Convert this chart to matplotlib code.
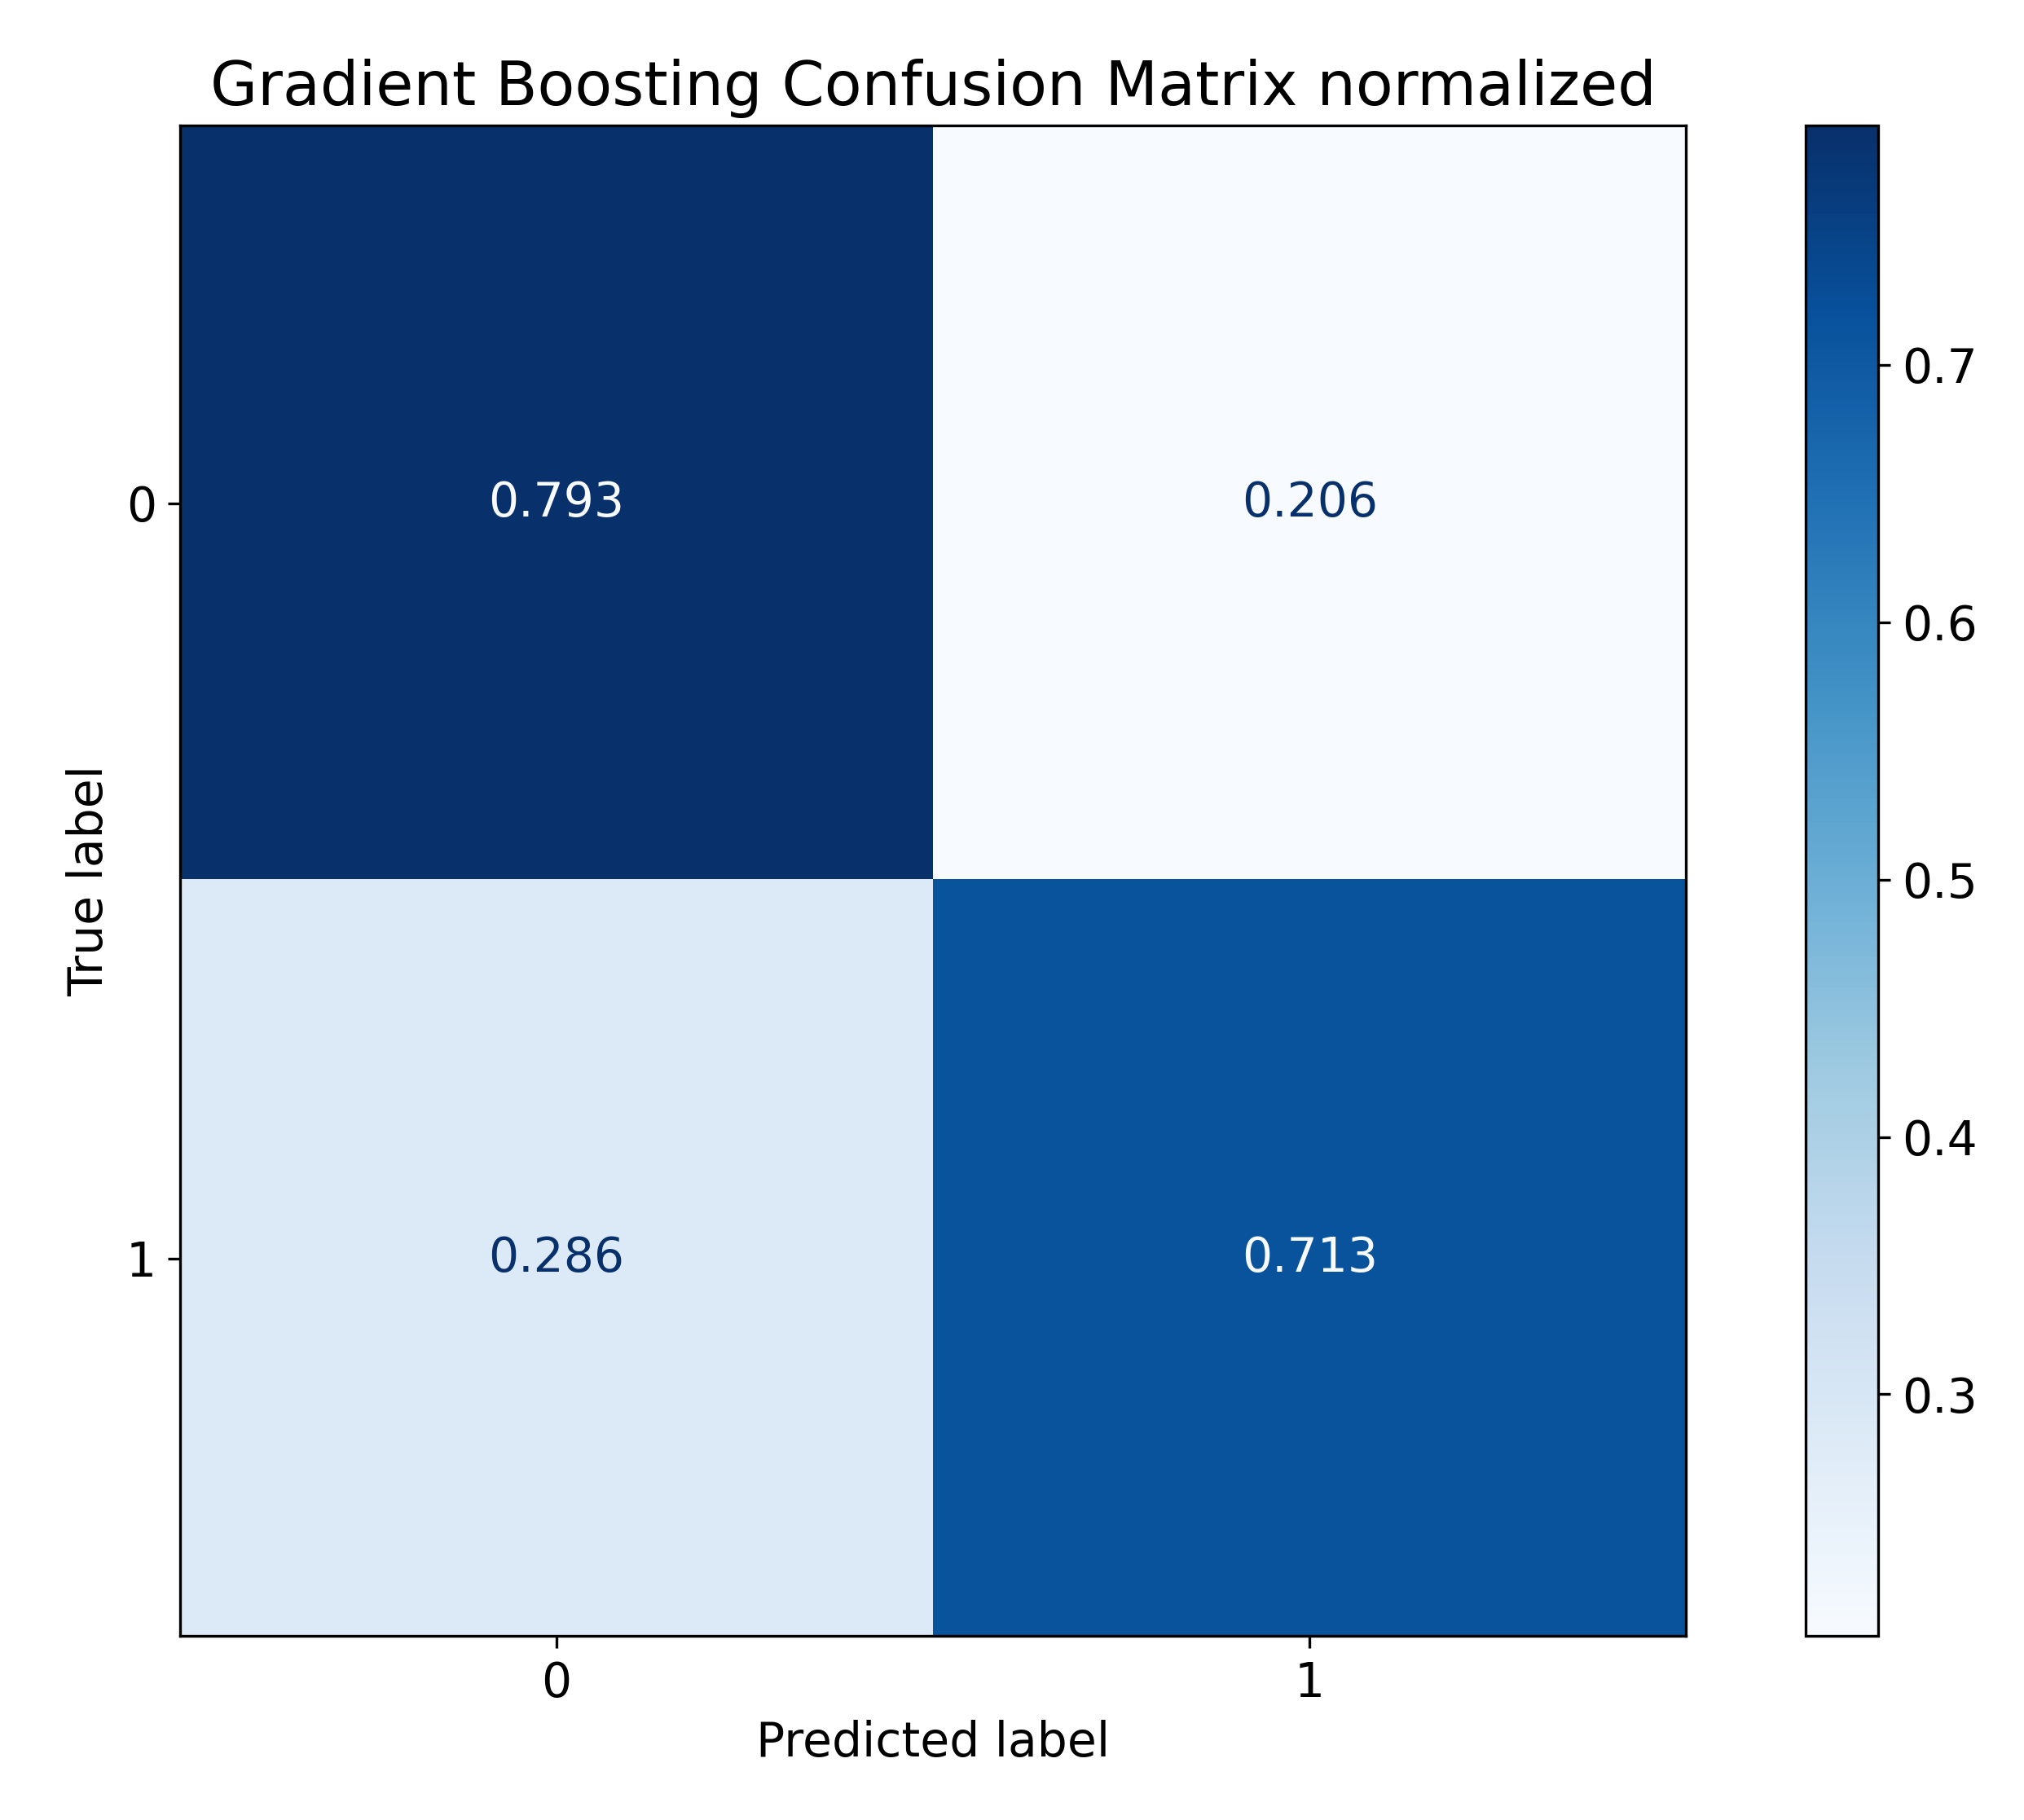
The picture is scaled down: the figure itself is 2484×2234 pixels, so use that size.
import matplotlib
matplotlib.use("Agg")
import matplotlib.pyplot as plt
import numpy as np

labels = ["0", "1"]
values = [[0.793, 0.206], [0.286, 0.713]]
title = "Gradient Boosting Confusion Matrix normalized"

cm = np.array(values)
fig = plt.figure(figsize=(8.28, 7.447), dpi=300)
ax = fig.add_axes([0.089, 0.101, 0.744, 0.830])
cax = fig.add_axes([0.892, 0.101, 0.036, 0.830])
cmap = plt.get_cmap("Blues")
im = ax.imshow(cm, cmap=cmap, aspect="auto")
vmin, vmax = cm.min(), cm.max()
thresh = (vmin + vmax) / 2
for i in range(2):
    for j in range(2):
        c = cmap(0.0) if cm[i, j] >= thresh else cmap(1.0)
        ax.text(j, i, f"{cm[i, j]:.3f}", ha="center", va="center", color=c, fontsize=14)
ax.set_xticks(range(2), labels, fontsize=14)
ax.set_yticks(range(2), labels, fontsize=14)
ax.set_xlabel("Predicted label", fontsize=14)
ax.set_ylabel("True label", fontsize=14)
ax.set_title(title, fontsize=18)
cb = fig.colorbar(im, cax=cax)
cb.set_ticks([0.3, 0.4, 0.5, 0.6, 0.7])
cb.ax.tick_params(labelsize=14)
fig.savefig("out.png")
